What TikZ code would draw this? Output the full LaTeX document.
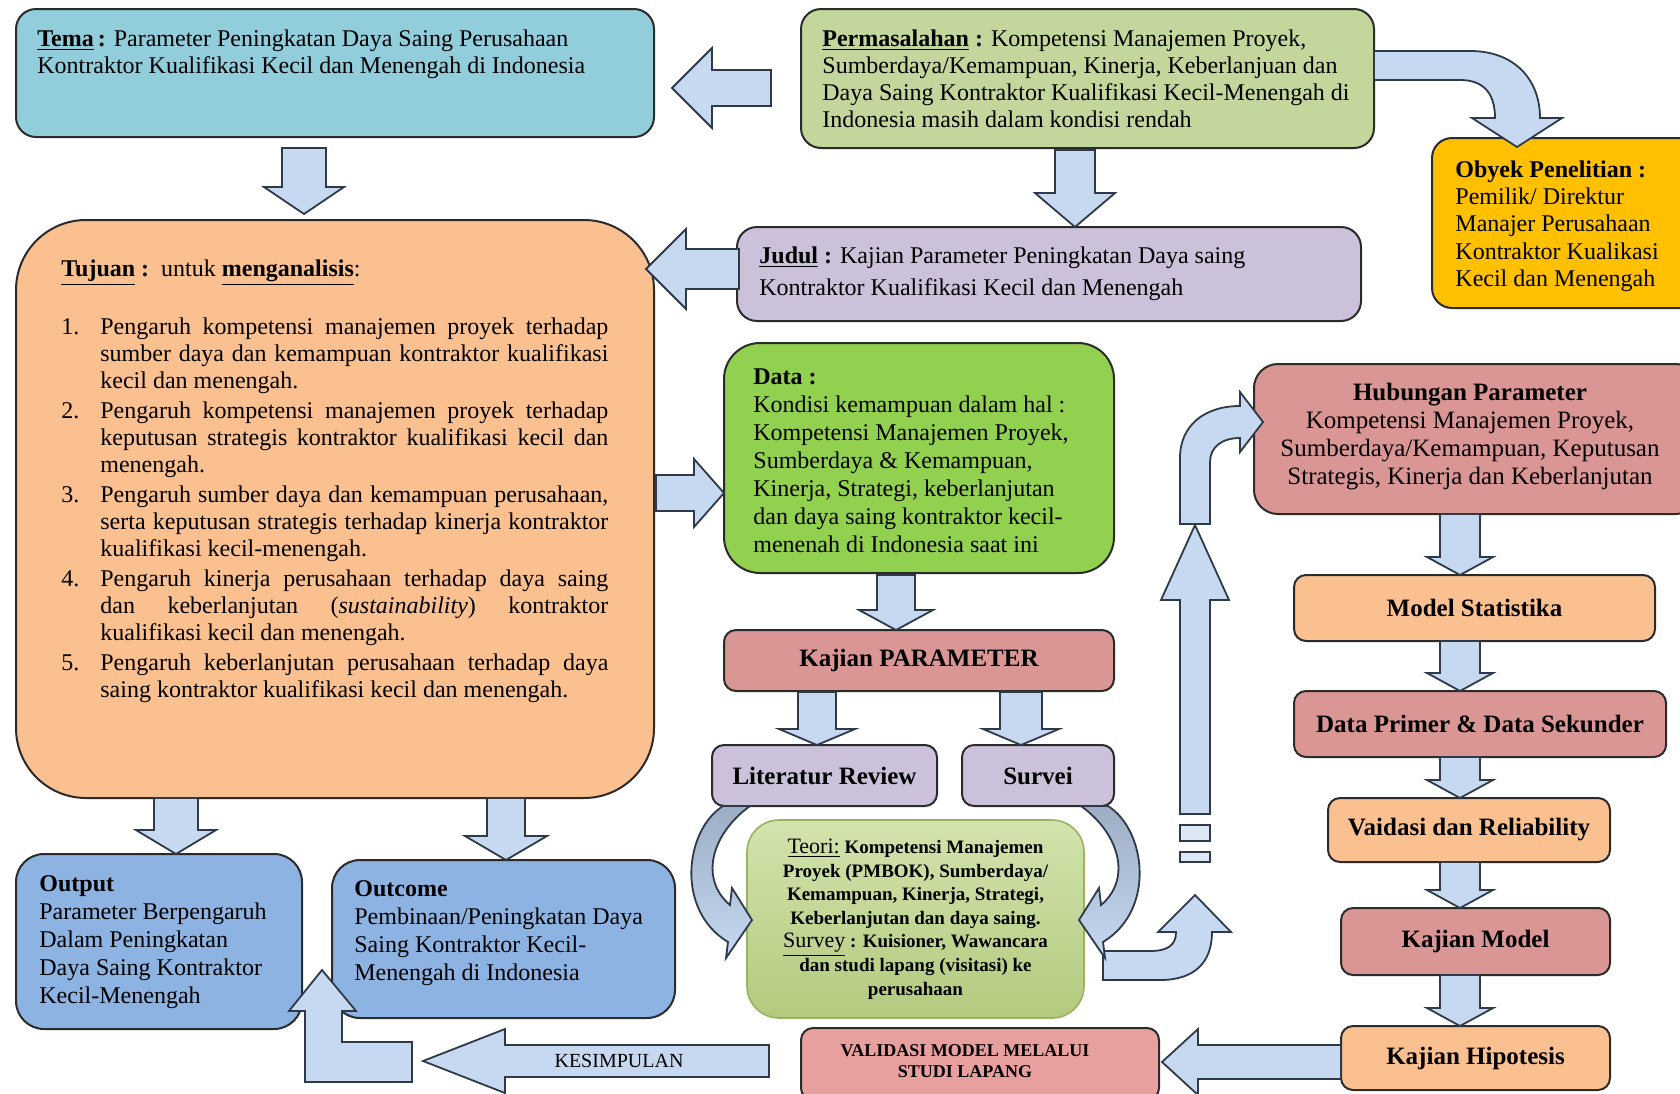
\documentclass[tikz,border=0pt]{standalone}
\usepackage{fontspec}
\setmainfont{Liberation Serif}
\usetikzlibrary{fit,calc}

\definecolor{temaC}{HTML}{92CDDC}
\definecolor{permC}{HTML}{C3D69B}
\definecolor{obyekC}{HTML}{FFC000}
\definecolor{lilacC}{HTML}{CCC1DA}
\definecolor{peachC}{HTML}{FAC090}
\definecolor{dataC}{HTML}{92D050}
\definecolor{roseC}{HTML}{D99694}
\definecolor{valC}{HTML}{E8A09E}
\definecolor{blueC}{HTML}{8DB3E2}
\definecolor{arrC}{HTML}{C6D9F1}
\definecolor{arrDark}{HTML}{9DAEC4}
\definecolor{lineC}{HTML}{2B2B2B}
\definecolor{arrLine}{HTML}{2E3A48}
\definecolor{teoriTop}{HTML}{D3E3AD}
\definecolor{teoriBot}{HTML}{B3CA7E}
\definecolor{teoriLine}{HTML}{9AB35E}

\tikzset{
  box/.style={draw=lineC, line width=1pt, inner sep=0pt, rounded corners=#1},
  box/.default=8pt,
  teoribox/.style={draw=teoriLine, line width=0.8pt, inner sep=0pt,
    rounded corners=16pt, top color=teoriTop, bottom color=teoriBot},
  gapbox/.style={draw=arrLine, line width=0.9pt, fill=arrC!60!white, inner sep=0pt},
  blk/.style={fill=arrC, draw=arrLine, line width=0.9pt, line join=miter},
  curveblk/.style={top color=arrDark, bottom color=arrC, draw=arrLine, line width=0.9pt},
  txt/.style={inner sep=0pt, align=left, anchor=north west,
    font=\fontsize{12}{13.5}\selectfont},
  head/.style={inner sep=0pt, align=center, font=\fontsize{12.5}{14}\selectfont\bfseries},
}

% block arrows: centre/tail, tip, position, shaft half width, head half width, head length
\newcommand{\blkdown}[6]{\draw[blk] ({#1-#4},#2) -- ({#1+#4},#2) -- ({#1+#4},{#3-#6})
  -- ({#1+#5},{#3-#6}) -- (#1,#3) -- ({#1-#5},{#3-#6}) -- ({#1-#4},{#3-#6}) -- cycle;}
\newcommand{\blkleft}[6]{\draw[blk] (#1,{#3-#4}) -- ({#2+#6},{#3-#4}) -- ({#2+#6},{#3-#5})
  -- (#2,#3) -- ({#2+#6},{#3+#5}) -- ({#2+#6},{#3+#4}) -- (#1,{#3+#4}) -- cycle;}
\newcommand{\blkright}[6]{\draw[blk] (#1,{#3-#4}) -- ({#2-#6},{#3-#4}) -- ({#2-#6},{#3-#5})
  -- (#2,#3) -- ({#2-#6},{#3+#5}) -- ({#2-#6},{#3+#4}) -- (#1,{#3+#4}) -- cycle;}

% justified lines of the numbered list
\newcommand{\tjLine}[1]{\makebox[254pt][s]{#1}}
\newcommand{\tjItem}[1]{\makebox[19.5pt][l]{#1}}
\newcommand{\tjInd}{\hspace*{19.5pt}}

\begin{document}
\begin{tikzpicture}[x=0.5pt,y=-0.5pt]
\useasboundingbox (0,0) rectangle (1680,1093);
\fill[white] (0,0) rectangle (1680,1093);

% ---------- boxes ----------
\node[box=10pt, fill=temaC,  fit={(16,9) (654,137)}] (tema) {};
\node[box=10pt, fill=permC,  fit={(801,9) (1374,148)}] (perm) {};
\node[box=10pt, fill=obyekC, fit={(1432,138) (1700,308)}] (obyek) {};
\node[box=10pt, fill=lilacC, fit={(737,227) (1361,321)}] (judul) {};
\node[box=35pt, fill=peachC, fit={(16,220) (654,798)}] (tujuan) {};
\node[box=18pt, fill=dataC,  fit={(724,343) (1114,573)}] (data) {};
\node[box=6pt,  fill=roseC,  fit={(724,630) (1114,691)}] (kparam) {};
\node[box=6pt,  fill=lilacC, fit={(712,745) (937,806)}] (litrev) {};
\node[box=6pt,  fill=lilacC, fit={(962,745) (1114,806)}] (survei) {};
\node[teoribox, fit={(747,820) (1084,1018)}] (teori) {};
\node[box=12pt, fill=roseC,  fit={(1254,364) (1700,514)}] (hub) {};
\node[box=6pt,  fill=peachC, fit={(1294,575) (1655,641)}] (model) {};
\node[box=6pt,  fill=roseC,  fit={(1294,691) (1666,757)}] (dprim) {};
\node[box=6pt,  fill=peachC, fit={(1328,798) (1610,862)}] (valid) {};
\node[box=6pt,  fill=roseC,  fit={(1341,908) (1610,975)}] (kmodel) {};
\node[box=6pt,  fill=peachC, fit={(1341,1026) (1610,1090)}] (hipo) {};
\node[box=6pt,  fill=valC,   fit={(801,1028) (1159,1100)}] (validasi) {};
\node[box=14pt, fill=blueC,  fit={(16,854) (302,1029)}] (output) {};
\node[box=14pt, fill=blueC,  fit={(332,860) (675,1018)}] (outcome) {};

% ---------- straight block arrows ----------
\blkleft{771}{672}{88}{18}{40}{40}        % Permasalahan -> Tema
\blkdown{304}{148}{214}{22}{40}{27}       % Tema -> Tujuan
\blkdown{1075}{150}{227}{20}{40}{34}      % Permasalahan -> Judul
\blkleft{739}{646}{269}{20}{40}{40}       % Judul -> Tujuan
\blkright{656}{724}{493}{18}{34}{30}      % Tujuan -> Data
\blkdown{896}{575}{630}{19}{37}{20}       % Data -> Kajian PARAMETER
\blkdown{817}{692}{745}{19}{38}{16}       % -> Literatur Review
\blkdown{1021}{692}{745}{21}{38}{16}      % -> Survei
\blkdown{176}{798}{854}{22}{40}{24}       % Tujuan -> Output
\blkdown{506}{798}{860}{19}{41}{24}       % Tujuan -> Outcome
\blkdown{1460}{514}{575}{20}{33}{18}
\blkdown{1460}{641}{691}{20}{33}{18}
\blkdown{1460}{757}{798}{20}{33}{18}
\blkdown{1460}{862}{908}{20}{33}{18}
\blkdown{1460}{975}{1026}{20}{33}{18}
\blkleft{1341}{1162}{1062}{17}{33}{36}    % Kajian Hipotesis -> Validasi
\blkleft{769}{423}{1061}{16}{32}{82}      % Kesimpulan

% bent arrow up between Output and Outcome
\draw[blk] (322,970) -- (356,1011) -- (342,1011) -- (342,1042) -- (412,1042)
  -- (412,1082) -- (305,1082) -- (305,1011) -- (289,1011) -- cycle;

% curved arrow Permasalahan -> Obyek
\draw[blk] (1374,51) -- (1470,51) .. controls (1515,51) and (1540,80) .. (1540,118)
  -- (1562,118) -- (1517,147) -- (1472,118) -- (1495,118)
  .. controls (1495,95) and (1485,80) .. (1460,80) -- (1374,80) -- cycle;

% long arrow up on the right of Survei, with its broken tail
\draw[blk] (1180,814) -- (1180,600) -- (1161,600) -- (1195,525) -- (1229,600)
  -- (1210,600) -- (1210,814) -- cycle;
\node[gapbox, fit={(1180,825) (1210,841)}] (gapA) {};
\node[gapbox, fit={(1180,852) (1210,862)}] (gapB) {};

% bend into Hubungan Parameter
\draw[blk] (1180,524) -- (1180,458) .. controls (1180,425) and (1205,406) .. (1240,406)
  -- (1240,392) -- (1263,422) -- (1240,452) -- (1240,438)
  .. controls (1222,438) and (1210,447) .. (1210,462) -- (1210,524) -- cycle;

% U-turn out of Teori
\draw[blk] (1103,951) -- (1150,951) .. controls (1168,951) and (1176,945) .. (1176,932)
  -- (1158,932) -- (1195,895) -- (1231,932) -- (1212,932)
  .. controls (1212,962) and (1195,980) .. (1160,980) -- (1103,980) -- cycle;

% curved arrows into Teori
\draw[curveblk] (723,806) .. controls (685,830) and (675,910) .. (728,942) -- (726,958)
  -- (752,920) -- (732,888) -- (730,905) .. controls (700,880) and (710,835) .. (750,806) -- cycle;
\draw[curveblk] (1108,806) .. controls (1146,830) and (1156,910) .. (1103,942) -- (1105,958)
  -- (1079,920) -- (1099,888) -- (1101,905) .. controls (1131,880) and (1121,835) .. (1081,806) -- cycle;

% ---------- texts ----------
\node[txt] (tematx) at (37,29) {\underline{\textbf{Tema}}\,\textbf{:} Parameter Peningkatan  Daya Saing  Perusahaan\\
  Kontraktor Kualifikasi  Kecil dan Menengah di Indonesia};

\node[txt] (permtx) at (822,29) {\underline{\textbf{Permasalahan}} \textbf{:} Kompetensi Manajemen Proyek,\\
  Sumberdaya/Kemampuan, Kinerja, Keberlanjuan dan\\
  Daya Saing Kontraktor Kualifikasi Kecil-Menengah di\\
  Indonesia masih dalam kondisi rendah};

\node[txt, font=\fontsize{12}{13.7}\selectfont] (obyektx) at (1455,160) {\textbf{Obyek Penelitian :}\\
  Pemilik/ Direktur\\ Manajer Perusahaan\\ Kontraktor Kualikasi\\ Kecil dan Menengah};

\node[txt, font=\fontsize{12}{16}\selectfont] (judultx) at (759,246) {\underline{\textbf{Judul}} \textbf{:}  Kajian Parameter  Peningkatan  Daya saing\\
  Kontraktor Kualifikasi  Kecil dan Menengah};

\node[txt] (tujuanhd) at (61,259) {\underline{\textbf{Tujuan}} \textbf{:}\ \ untuk \underline{\textbf{menganalisis}}:};

\node[txt] (tujuantx) at (61,317) {%
  \tjItem{1.}\tjLine{Pengaruh kompetensi manajemen proyek terhadap}\\
  \tjInd\tjLine{sumber daya dan kemampuan kontraktor kualifikasi}\\
  \tjInd kecil dan menengah.\\[1.5pt]
  \tjItem{2.}\tjLine{Pengaruh kompetensi manajemen proyek terhadap}\\
  \tjInd\tjLine{keputusan strategis  kontraktor kualifikasi kecil dan}\\
  \tjInd menengah.\\[1.5pt]
  \tjItem{3.}\tjLine{Pengaruh sumber daya dan kemampuan perusahaan,}\\
  \tjInd\tjLine{serta keputusan strategis terhadap kinerja kontraktor}\\
  \tjInd kualifikasi kecil-menengah.\\[1.5pt]
  \tjItem{4.}\tjLine{Pengaruh kinerja perusahaan terhadap daya saing}\\
  \tjInd\tjLine{dan keberlanjutan (\textit{sustainability}) kontraktor}\\
  \tjInd kualifikasi kecil dan menengah.\\[1.5pt]
  \tjItem{5.}\tjLine{Pengaruh keberlanjutan perusahaan terhadap daya}\\
  \tjInd saing kontraktor kualifikasi kecil dan menengah.};

\node[txt, font=\fontsize{12}{14}\selectfont] (datatx) at (753,368) {\textbf{Data :}\\
  Kondisi kemampuan dalam hal :\\
  Kompetensi Manajemen  Proyek,\\
  Sumberdaya \& Kemampuan,\\
  Kinerja, Strategi, keberlanjutan\\
  dan daya saing kontraktor kecil-\\
  menenah di Indonesia saat ini};

\node[head] (kparamtx) at (kparam.center) {Kajian PARAMETER};
\node[head] (litrevtx) at (litrev.center) {Literatur Review};
\node[head] (surveitx) at (survei.center) {Survei};

\node[inner sep=0pt, align=center, font=\fontsize{9.5}{11.8}\selectfont\bfseries] (teoritx) at (teori.center)
  {{\fontsize{11}{11.8}\selectfont\mdseries\underline{Teori:}} Kompetensi Manajemen\\
   Proyek (PMBOK), Sumberdaya/\\
   Kemampuan, Kinerja, Strategi,\\
   Keberlanjutan dan daya saing.\\
   {\fontsize{11}{11.8}\selectfont\mdseries\underline{Survey}} : Kuisioner, Wawancara\\
   dan studi lapang (visitasi) ke\\
   perusahaan};

\node[inner sep=0pt, align=center, font=\fontsize{12.5}{14}\selectfont] (hubtx) at (1470,437)
  {\textbf{Hubungan Parameter}\\
   Kompetensi Manajemen Proyek,\\
   Sumberdaya/Kemampuan, Keputusan\\
   Strategis, Kinerja dan Keberlanjutan};

\node[head] (modeltx) at (model.center) {Model Statistika};
\node[head] (dprimtx) at (dprim.center) {Data Primer \& Data Sekunder};
\node[head] (validtx) at (valid.center) {Vaidasi dan Reliability};
\node[head] (kmodeltx) at (kmodel.center) {Kajian Model};
\node[head] (hipotx) at (hipo.center) {Kajian Hipotesis};

\node[inner sep=0pt, align=center, font=\fontsize{9}{10.5}\selectfont\bfseries] (validasitx) at (965,1061)
  {VALIDASI MODEL MELALUI\\ STUDI LAPANG};
\node[inner sep=0pt, font=\fontsize{10}{12}\selectfont] (kesimtx) at (619,1061) {KESIMPULAN};

\node[txt, font=\fontsize{12}{14}\selectfont] (outputtx) at (39,875) {\textbf{Output}\\
  Parameter Berpengaruh\\ Dalam Peningkatan\\ Daya Saing Kontraktor\\ Kecil-Menengah};
\node[txt, font=\fontsize{12}{14}\selectfont] (outcometx) at (354,880) {\textbf{Outcome}\\
  Pembinaan/Peningkatan Daya\\ Saing Kontraktor Kecil-\\ Menengah di Indonesia};

\end{tikzpicture}
\end{document}
